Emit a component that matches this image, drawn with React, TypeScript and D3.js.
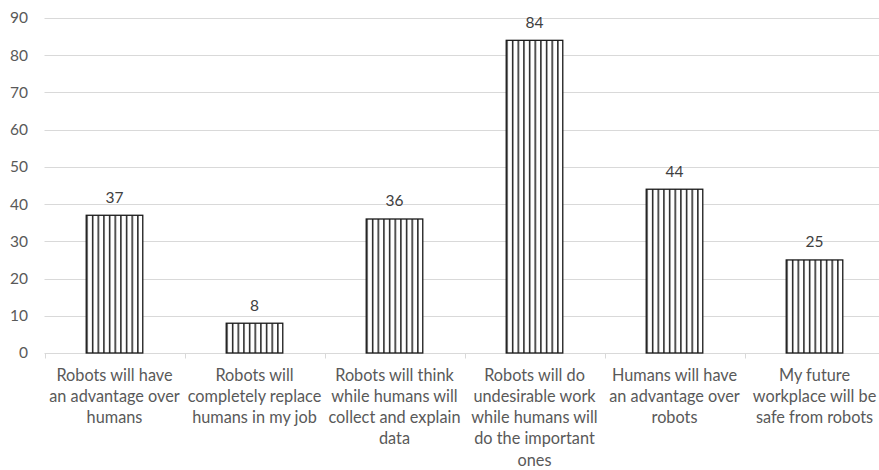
import { useEffect, useRef } from 'react'
import * as d3 from 'd3'

const categories = [
  'Robots will have an advantage over humans',
  'Robots will completely replace humans in my job',
  'Robots will think while humans will collect and explain data',
  'Robots will do undesirable work while humans will do the important ones',
  'Humans will have an advantage over robots',
  'My future workplace will be safe from robots',
]

// wrapped the way the original chart wraps them
const categoryLines = [
  ['Robots will have', 'an advantage over', 'humans'],
  ['Robots will', 'completely replace', 'humans in my job'],
  ['Robots will think', 'while humans will', 'collect and explain', 'data'],
  ['Robots will do', 'undesirable work', 'while humans will', 'do the important', 'ones'],
  ['Humans will have', 'an advantage over', 'robots'],
  ['My future', 'workplace will be', 'safe from robots'],
]

const values = [37, 8, 36, 84, 44, 25]

const yTicks = [0, 10, 20, 30, 40, 50, 60, 70, 80, 90]

const W = 879
const H = 470
const FONT = 'Lato, "Open Sans", sans-serif'

export default function App() {
  const svgRef = useRef<SVGSVGElement>(null)

  useEffect(() => {
    const svgEl = svgRef.current
    if (!svgEl) return

    const left = 44.5
    const right = 884.5
    const top = 18
    const bottom = 353

    const x = d3.scaleBand<string>()
      .domain(categories)
      .range([left, right])
      .paddingInner(0.596)
      .paddingOuter(0.298)

    const y = d3.scaleLinear().domain([0, 90]).range([bottom, top])

    const svg = d3.select(svgEl)
    svg.selectAll('*').remove()

    // vertical hatch fill, ten stripes per bar
    const defs = svg.append('defs')
    const pat = defs.append('pattern')
      .attr('id', 'vhatch')
      .attr('patternUnits', 'objectBoundingBox')
      .attr('width', 0.1)
      .attr('height', 1)
    pat.append('rect').attr('width', 20).attr('height', 400).attr('fill', '#fff')
    pat.append('rect').attr('x', 0).attr('width', 1.5).attr('height', 400).attr('fill', '#1f1f1f')

    // Gridlines
    svg.append('g')
      .selectAll('line')
      .data(yTicks)
      .join('line')
      .attr('x1', left)
      .attr('x2', W)
      .attr('y1', d => Math.round(y(d)) + 0.5)
      .attr('y2', d => Math.round(y(d)) + 0.5)
      .style('stroke', '#d9d9d9')
      .style('stroke-width', '1')

    // category tick marks
    const step = x.step()
    svg.append('g')
      .selectAll('line')
      .data(d3.range(categories.length + 1))
      .join('line')
      .attr('x1', i => Math.round(left + i * step) + 0.5)
      .attr('x2', i => Math.round(left + i * step) + 0.5)
      .attr('y1', Math.round(y(0)) + 0.5)
      .attr('y2', Math.round(y(0)) + 5.5)
      .style('stroke', '#d9d9d9')

    // Y labels
    svg.append('g')
      .selectAll('text')
      .data(yTicks)
      .join('text')
      .attr('x', 28)
      .attr('y', d => y(d))
      .attr('dy', '0.35em')
      .attr('text-anchor', 'end')
      .style('fill', '#595959')
      .style('font-size', '15.5px')
      .style('font-family', FONT)
      .text(d => d)

    // Bars
    svg.append('g')
      .selectAll('rect')
      .data(values)
      .join('rect')
      .attr('x', (_, i) => x(categories[i])!)
      .attr('y', d => y(d))
      .attr('width', x.bandwidth())
      .attr('height', d => y(0) - y(d))
      .attr('fill', 'url(#vhatch)')
      .style('stroke', '#1a1a1a')
      .style('stroke-width', '1.3')

    // Data labels
    svg.append('g')
      .selectAll('text')
      .data(values)
      .join('text')
      .attr('x', (_, i) => x(categories[i])! + x.bandwidth() / 2)
      .attr('y', d => y(d) - 18)
      .attr('dy', '0.35em')
      .attr('text-anchor', 'middle')
      .style('fill', '#404040')
      .style('font-size', '15.5px')
      .style('font-family', FONT)
      .text(d => d)

    // Category labels
    const cat = svg.append('g')
      .selectAll('text')
      .data(categoryLines)
      .join('text')
      .attr('text-anchor', 'middle')
      .style('fill', '#595959')
      .style('font-size', '16.3px')
      .style('font-family', FONT)
      .attr('transform', (_, i) => `translate(${x(categories[i])! + x.bandwidth() / 2},375)`)

    cat.selectAll('tspan')
      .data(d => d)
      .join('tspan')
      .attr('x', 0)
      .attr('y', (_, j) => j * 21.2)
      .attr('dy', '0.35em')
      .text(d => d)
  }, [])

  return (
    <svg
      ref={svgRef}
      width={W}
      height={H}
      style={{ position: 'absolute', left: 0, top: 0, background: '#fff' }}
    />
  )
}
